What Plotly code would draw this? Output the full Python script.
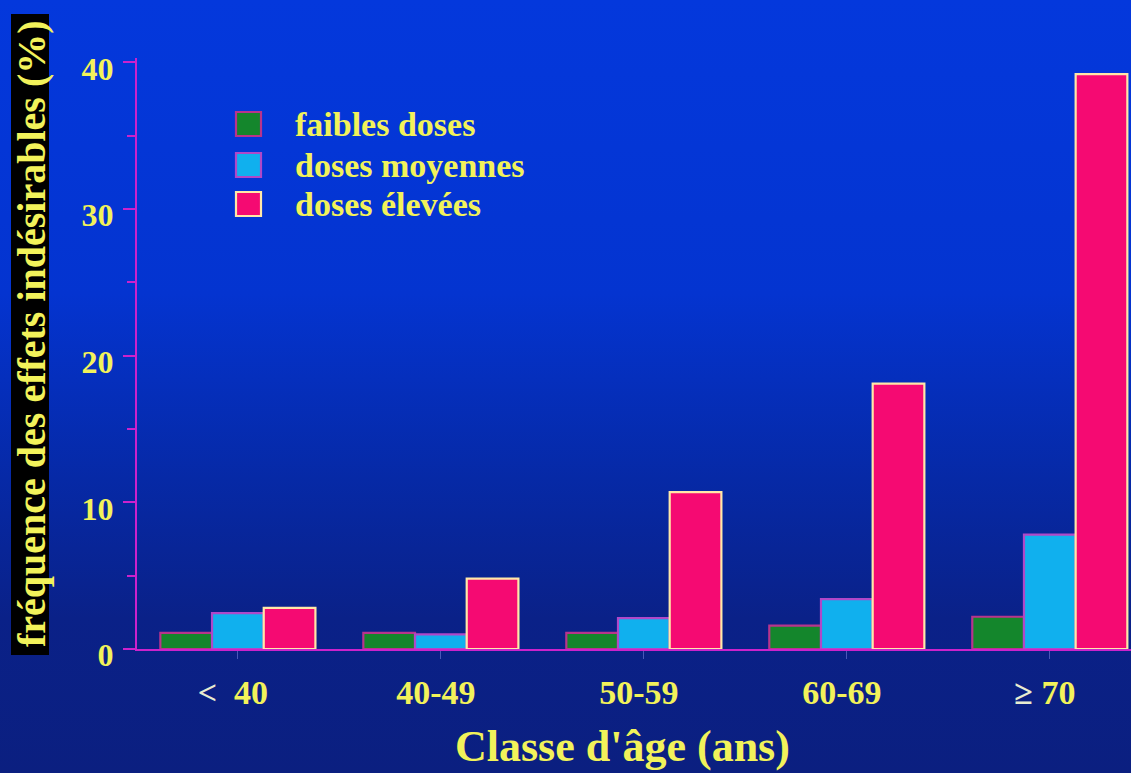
import base64
import plotly.graph_objects as go

# Age classes and adverse-effect frequency (%) per dose level
age_classes = ["< 40", "40-49", "50-59", "60-69", "≥ 70"]
tick_labels = [
    "<span style='color:#e8ecd0'>&lt;</span>  40",
    "40-49",
    "50-59",
    "60-69",
    "<span style='color:#e8ecd0'>≥</span> 70",
]
faibles_doses = [1.1, 1.1, 1.1, 1.6, 2.2]
doses_moyennes = [2.45, 1.0, 2.1, 3.4, 7.8]
doses_elevees = [2.8, 4.8, 10.7, 18.1, 39.2]

series_names = ["faibles doses", "doses moyennes", "doses élevées"]
fill_colors = ["#14862c", "#10b0ee", "#f50a72"]
line_colors = ["#b8348c", "#b048c8", "#ffe8a8"]

YELLOW = "#f2f25a"
AXIS = "#cc22cc"
SERIF = "Liberation Serif"

W, H = 1131, 773
PL, PR, PT, PB = 137, 1131, 58, 649  # plot area in pixels


def fx(px):
    return (px - PL) / (PR - PL)


def fy(py):
    return (PB - py) / (PB - PT)


fig = go.Figure()
for name, vals, fc, lc in zip(series_names,
                              [faibles_doses, doses_moyennes, doses_elevees],
                              fill_colors, line_colors):
    fig.add_trace(go.Bar(
        x=age_classes, y=vals, name=name,
        marker=dict(color=fc, line=dict(color=lc, width=2.2)),
        showlegend=False,
    ))

# Vertical blue gradient backdrop
svg = (
    f'<svg xmlns="http://www.w3.org/2000/svg" width="{W}" height="{H}" '
    'preserveAspectRatio="none"><defs><linearGradient id="g" x1="0" y1="0" x2="0" y2="1">'
    '<stop offset="0" stop-color="#0438dc"/>'
    '<stop offset="0.38" stop-color="#0434d0"/>'
    '<stop offset="0.62" stop-color="#0629a6"/>'
    '<stop offset="0.80" stop-color="#0a2188"/>'
    '<stop offset="1" stop-color="#0b1f80"/>'
    '</linearGradient></defs><rect width="100%" height="100%" fill="url(#g)"/></svg>'
)
bg_uri = "data:image/svg+xml;base64," + base64.b64encode(svg.encode()).decode()

shapes = [
    # black band behind the y-axis title
    dict(type="rect", xref="paper", yref="paper",
         x0=fx(11), x1=fx(49), y0=fy(655), y1=fy(14),
         fillcolor="black", line=dict(width=0), layer="above"),
]

annotations = [
    dict(text="fréquence des effets indésirables (%)", xref="paper", yref="paper",
         x=fx(31), y=fy(334), xanchor="center", yanchor="middle",
         textangle=-90, showarrow=False,
         font=dict(family=SERIF, size=40, color=YELLOW, weight="bold")),
    dict(text="Classe d'âge (ans)", xref="paper", yref="paper",
         x=fx(622), y=fy(746), xanchor="center", yanchor="middle", showarrow=False,
         font=dict(family=SERIF, size=44, color=YELLOW, weight="bold")),
]

# Legend: swatches and labels
legend_rows = [124, 165, 204]
for name, fc, lc, cy in zip(series_names, fill_colors, line_colors, legend_rows):
    shapes.append(dict(type="rect", xref="paper", yref="paper",
                       x0=fx(236), x1=fx(261), y0=fy(cy + 12), y1=fy(cy - 12),
                       fillcolor=fc, line=dict(color=lc, width=2.2)))
    annotations.append(dict(text=name, xref="paper", yref="paper",
                            x=fx(293), y=fy(cy), xanchor="left", yanchor="middle",
                            showarrow=False,
                            font=dict(family=SERIF, size=34, color=YELLOW, weight="bold")))

fig.update_layout(
    width=W, height=H,
    margin=dict(l=PL, r=W - PR, t=PT, b=H - PB, pad=0),
    paper_bgcolor="#0a2188",
    plot_bgcolor="rgba(0,0,0,0)",
    barmode="group", bargap=0.236, bargroupgap=0,
    images=[dict(source=bg_uri, xref="paper", yref="paper",
                 x=fx(0), y=fy(0), sizex=W / (PR - PL), sizey=H / (PB - PT),
                 xanchor="left", yanchor="top", sizing="stretch", layer="below")],
    shapes=shapes,
    annotations=annotations,
    xaxis=dict(
        range=[-0.497, 4.4], showgrid=False, zeroline=False,
        showline=True, linecolor=AXIS, linewidth=2,
        ticks="outside", ticklen=8, tickcolor="#4a58b8", tickwidth=1,
        tickmode="array", tickvals=age_classes, ticktext=tick_labels,
        tickfont=dict(family=SERIF, size=34, color=YELLOW, weight="bold"),
        ticklabelstandoff=4, ticklabelshift=-5,
    ),
    yaxis=dict(
        range=[0, 40.3], dtick=10, showgrid=False, zeroline=False,
        showline=True, linecolor=AXIS, linewidth=2,
        ticks="outside", ticklen=12, tickcolor=AXIS, tickwidth=1.5,
        minor=dict(dtick=5, ticks="outside", ticklen=8, tickcolor=AXIS, tickwidth=1.5),
        tickfont=dict(family=SERIF, size=32, color=YELLOW, weight="bold"),
        ticklabelstandoff=3, ticklabelshift=6,
    ),
)

fig.write_html("out.html")
